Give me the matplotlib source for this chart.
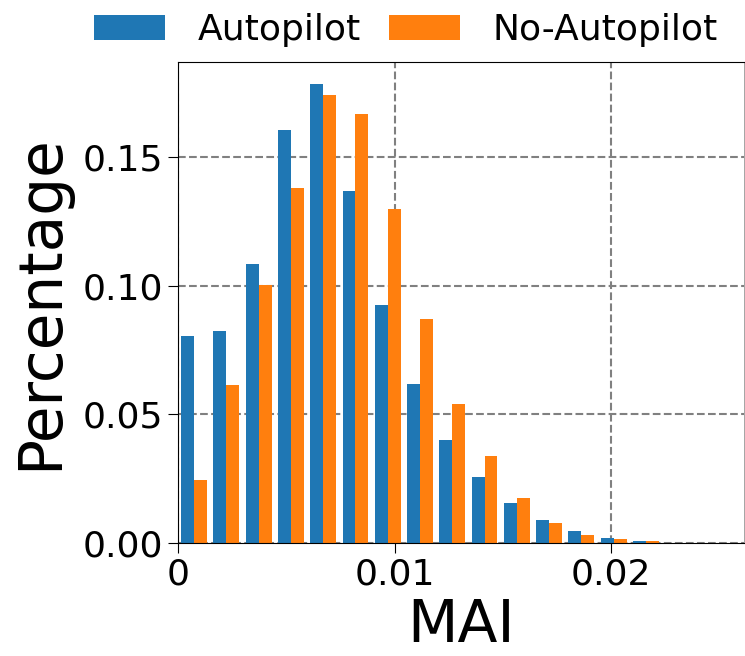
import matplotlib
matplotlib.use("Agg")
import matplotlib.pyplot as plt
import numpy as np

# bin width of the MAI histogram and the share of trips per bin
binWidth = 0.00149
autopilot = [0.0804, 0.0824, 0.1083, 0.1605, 0.1782, 0.1366, 0.0923, 0.0617,
             0.0399, 0.0258, 0.0155, 0.0088, 0.0045, 0.0019, 0.0008]
noAutopilot = [0.0245, 0.0614, 0.1002, 0.1379, 0.1739, 0.1666, 0.1296, 0.0869,
               0.0541, 0.0337, 0.0174, 0.0077, 0.0031, 0.0016, 0.0007]
labels = ["Autopilot", "No-Autopilot"]
xTicks = [0, 0.01, 0.02]
xTickLabels = ["0", "0.01", "0.02"]
yTicks = [0.00, 0.05, 0.10, 0.15]

edges = np.arange(len(autopilot)) * binWidth

fig = plt.figure(figsize=(7.45, 6.56), dpi=100)
ax = fig.add_axes([178 / 745, 113 / 656, 567 / 745 - 0.0015, 481 / 656])

ax.bar(edges + 0.1 * binWidth, autopilot, width=0.4 * binWidth, align='edge',
       color='#1f77b4', label=labels[0], zorder=2)
ax.bar(edges + 0.5 * binWidth, noAutopilot, width=0.4 * binWidth, align='edge',
       color='#ff7f0e', label=labels[1], zorder=2)

ax.set_xlim(0, 0.02613)
ax.set_ylim(0, 0.1869)
ax.set_xticks(xTicks)
ax.set_xticklabels(xTickLabels)
ax.set_yticks(yTicks)
ax.tick_params(labelsize=26, length=7)
ax.grid(True, linestyle='--', color='gray', linewidth=1.5, zorder=0)
ax.set_axisbelow(True)
ax.set_xlabel("MAI", fontsize=42, labelpad=4)
ax.set_ylabel("Percentage", fontsize=43, labelpad=9)
ax.spines['right'].set_linewidth(0.5)
ax.spines['right'].set_color('gray')

fig.legend(loc='upper center', bbox_to_anchor=(0.545, 1.03), ncol=2,
           frameon=False, fontsize=26, handlelength=1.95, handletextpad=0.9,
           columnspacing=0.8)

fig.savefig("out.png", dpi=100)
